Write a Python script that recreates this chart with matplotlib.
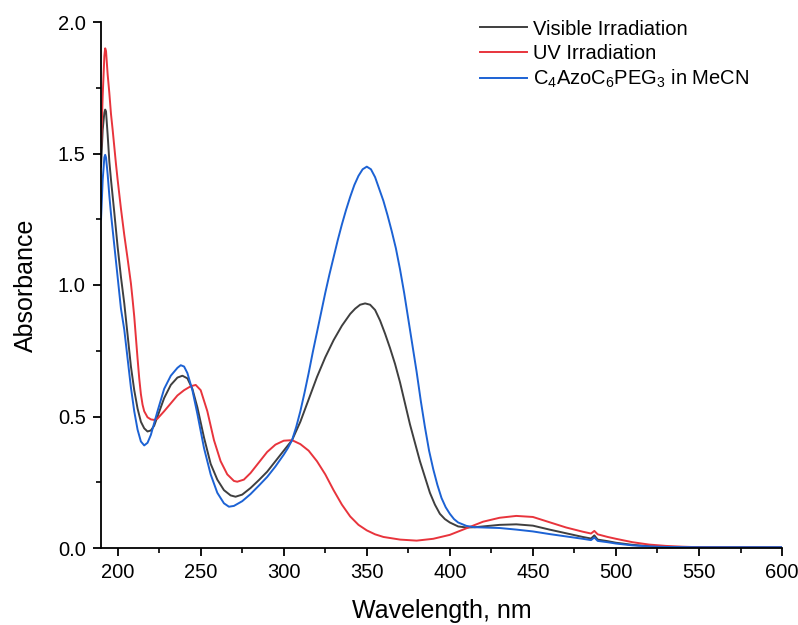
import matplotlib
matplotlib.use("Agg")
import matplotlib.pyplot as plt
from matplotlib.ticker import MultipleLocator, FormatStrFormatter

plt.rcParams['font.family'] = ['Liberation Sans', 'DejaVu Sans']
plt.rcParams['mathtext.fontset'] = 'custom'
plt.rcParams['mathtext.rm'] = 'Liberation Sans'
plt.rcParams['mathtext.it'] = 'Liberation Sans'

# ---- data ----
wl_vis = [190, 191, 192, 192.5, 193, 194, 195, 196, 198, 200, 202, 204, 206, 208, 210, 212, 214, 216,
          218, 220, 222, 224, 228, 232, 236, 239, 242, 245, 248, 252, 256, 260, 264, 268, 271, 275,
          280, 285, 290, 295, 300, 305, 310, 315, 320, 325, 330, 335, 340, 343, 346, 349, 352, 355,
          358, 361, 364, 367, 370, 373, 376, 379, 382, 385, 388, 391, 394, 397, 400, 405, 410, 415,
          420, 430, 440, 450, 460, 470, 480, 485, 487, 489, 495, 500, 510, 520, 530, 550, 600]
abs_vis = [1.45, 1.59, 1.655, 1.667, 1.66, 1.57, 1.47, 1.40, 1.275, 1.145, 1.03, 0.93, 0.81, 0.69, 0.60,
           0.53, 0.48, 0.455, 0.443, 0.447, 0.465, 0.50, 0.57, 0.62, 0.648, 0.655, 0.645, 0.605, 0.535,
           0.42, 0.32, 0.26, 0.22, 0.20, 0.195, 0.203, 0.228, 0.258, 0.29, 0.33, 0.37, 0.41, 0.48,
           0.565, 0.65, 0.725, 0.79, 0.845, 0.89, 0.91, 0.925, 0.93, 0.925, 0.905, 0.865, 0.815, 0.76,
           0.70, 0.63, 0.55, 0.47, 0.40, 0.33, 0.27, 0.21, 0.165, 0.13, 0.11, 0.097, 0.082, 0.078,
           0.079, 0.082, 0.088, 0.090, 0.085, 0.070, 0.056, 0.042, 0.036, 0.048, 0.032, 0.026, 0.020,
           0.012, 0.007, 0.004, 0.003, 0.002]

wl_uv = [190, 191, 192, 192.5, 193, 194, 195, 196, 197, 198, 199, 200, 202, 204, 206, 208, 209, 210,
         211, 212, 213, 214, 215, 216, 218, 220, 222, 224, 228, 232, 236, 240, 244, 247, 250, 254,
         258, 262, 266, 270, 272, 276, 280, 285, 290, 295, 300, 305, 310, 315, 320, 325, 330, 335,
         340, 345, 350, 355, 360, 370, 380, 390, 400, 410, 420, 430, 440, 450, 460, 470, 480, 485,
         487, 489, 495, 500, 510, 520, 530, 540, 550, 600]
abs_uv = [1.52, 1.72, 1.87, 1.90, 1.89, 1.80, 1.73, 1.65, 1.59, 1.525, 1.46, 1.40, 1.29, 1.19, 1.10,
          1.006, 0.945, 0.88, 0.80, 0.72, 0.645, 0.585, 0.545, 0.52, 0.497, 0.489, 0.487, 0.492, 0.52,
          0.55, 0.58, 0.60, 0.615, 0.62, 0.60, 0.52, 0.41, 0.33, 0.28, 0.255, 0.252, 0.26, 0.285,
          0.325, 0.365, 0.393, 0.408, 0.41, 0.395, 0.37, 0.33, 0.28, 0.22, 0.165, 0.12, 0.088, 0.067,
          0.052, 0.042, 0.032, 0.028, 0.035, 0.05, 0.075, 0.10, 0.115, 0.122, 0.118, 0.098, 0.078,
          0.062, 0.055, 0.065, 0.052, 0.042, 0.035, 0.022, 0.013, 0.008, 0.005, 0.003, 0.002]

wl_mecn = [190, 191, 192, 192.5, 193, 194, 195, 196, 198, 200, 202, 204, 206, 208, 210, 212, 214,
           216, 218, 220, 224, 228, 232, 236, 238, 240, 242, 245, 248, 252, 256, 260, 264, 267, 270,
           275, 280, 285, 290, 295, 300, 302.5, 305, 307.5, 310, 312.5, 315, 317.5, 320, 322.5, 325,
           327.5, 330, 332.5, 335, 337.5, 340, 342.5, 345, 347.5, 350, 352.5, 355, 357.5, 360, 362.5,
           365, 367.5, 370, 372.5, 375, 377.5, 380, 382.5, 385, 387.5, 390, 392.5, 395, 397.5, 400,
           402.5, 405, 410, 415, 420, 430, 440, 450, 460, 470, 480, 485, 487, 489, 495, 500, 510, 520,
           530, 550, 600]
abs_mecn = [1.25, 1.40, 1.485, 1.495, 1.485, 1.42, 1.34, 1.27, 1.15, 1.03, 0.91, 0.83, 0.72, 0.61,
            0.52, 0.45, 0.405, 0.39, 0.40, 0.43, 0.52, 0.605, 0.655, 0.685, 0.695, 0.69, 0.665, 0.60,
            0.51, 0.38, 0.28, 0.21, 0.17, 0.157, 0.16, 0.178, 0.205, 0.237, 0.27, 0.31, 0.355, 0.38,
            0.41, 0.46, 0.52, 0.59, 0.665, 0.745, 0.82, 0.895, 0.97, 1.04, 1.105, 1.17, 1.23, 1.285,
            1.335, 1.38, 1.415, 1.44, 1.45, 1.44, 1.41, 1.365, 1.32, 1.265, 1.205, 1.14, 1.06, 0.97,
            0.87, 0.77, 0.67, 0.56, 0.46, 0.37, 0.30, 0.24, 0.19, 0.155, 0.13, 0.11, 0.097, 0.084,
            0.079, 0.078, 0.076, 0.070, 0.063, 0.053, 0.044, 0.035, 0.030, 0.040, 0.027, 0.022, 0.017,
            0.010, 0.006, 0.004, 0.003, 0.003]

labels = ["Visible Irradiation", "UV Irradiation", r"C$_4$AzoC$_6$PEG$_3$ in MeCN"]
colors = ["#3f3f3f", "#e8343c", "#1c62d4"]

fig = plt.figure(figsize=(7.98, 6.25), dpi=100)
ax = fig.add_axes([0.1266, 0.1232, 0.8534, 0.8416])

for wl, ab, lab, c in zip([wl_vis, wl_uv, wl_mecn], [abs_vis, abs_uv, abs_mecn], labels, colors):
    ax.plot(wl, ab, color=c, lw=1.4, label=lab, solid_joinstyle='round')

ax.set_xlim(190, 600)
ax.set_ylim(0, 2.0)
ax.xaxis.set_major_locator(MultipleLocator(50))
ax.xaxis.set_minor_locator(MultipleLocator(25))
ax.yaxis.set_major_locator(MultipleLocator(0.5))
ax.yaxis.set_minor_locator(MultipleLocator(0.25))
ax.yaxis.set_major_formatter(FormatStrFormatter('%.1f'))

for s in ['top', 'right']:
    ax.spines[s].set_visible(False)
for s in ['left', 'bottom']:
    ax.spines[s].set_linewidth(1.3)

ax.tick_params(which='major', direction='out', length=6, width=1.3, labelsize=14.5, pad=5)
ax.tick_params(which='minor', direction='out', length=3.5, width=1.2)

ax.set_xlabel("Wavelength, nm", fontsize=18, labelpad=12)
ax.set_ylabel("Absorbance", fontsize=18, labelpad=14)

leg = ax.legend(loc='upper left', bbox_to_anchor=(0.545, 1.02), frameon=False, fontsize=14.5,
                handlelength=2.3, handletextpad=0.3, labelspacing=0.25, borderaxespad=0)

fig.savefig("out.png", dpi=100)
